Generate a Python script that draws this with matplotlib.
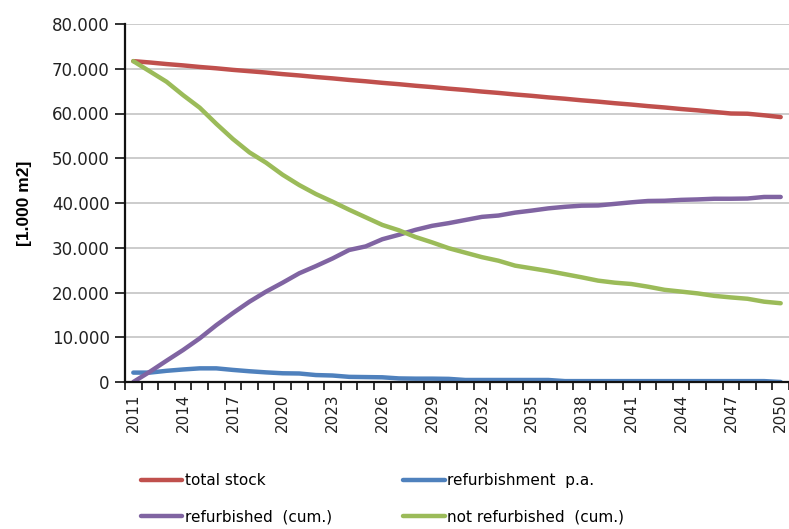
import matplotlib
matplotlib.use("Agg")
import matplotlib.pyplot as plt
from matplotlib.ticker import FuncFormatter

# years and series, values in [1.000 m2]
years = list(range(2011, 2051))

total_stock = [71700, 71400, 71050, 70750, 70400, 70100, 69750, 69450, 69150, 68800,
               68500, 68150, 67850, 67500, 67200, 66850, 66550, 66200, 65900, 65550,
               65250, 64900, 64600, 64250, 63950, 63600, 63300, 62950, 62650, 62300,
               62000, 61650, 61350, 61000, 60700, 60350, 60000, 59950, 59600, 59200]

refurb_pa = [2100, 2100, 2500, 2800, 3050, 3050, 2700, 2400, 2150, 1950,
             1900, 1550, 1450, 1150, 1100, 1050, 800, 750, 750, 700,
             450, 450, 450, 450, 450, 450, 200, 200, 200, 200,
             200, 200, 200, 200, 200, 200, 200, 200, 200, 0]

refurb_cum = [0, 2300, 4750, 7150, 9750, 12700, 15400, 17950, 20200, 22200,
              24300, 25900, 27600, 29500, 30300, 31900, 32900, 34000, 34900, 35500,
              36200, 36900, 37200, 37850, 38300, 38800, 39150, 39400, 39450, 39800,
              40150, 40450, 40500, 40700, 40800, 40950, 40950, 41000, 41350, 41350]

not_refurb_cum = [71700, 69400, 67100, 64100, 61300, 57700, 54300, 51300, 49000, 46300,
                  44000, 42000, 40300, 38500, 36800, 35100, 33900, 32400, 31200, 29900,
                  28900, 27900, 27100, 26000, 25400, 24800, 24100, 23400, 22650, 22200,
                  21900, 21300, 20600, 20200, 19800, 19250, 18900, 18600, 17950, 17600]

fig = plt.figure(figsize=(7.89, 5.29), dpi=100)
ax = fig.add_axes([125 / 789, 1 - 382 / 529, 1 - 125 / 789, (382 - 24) / 529])

x = list(range(len(years)))
lw = 3.2
l1, = ax.plot(x, total_stock, color="#C0504D", lw=lw, solid_capstyle="round", label="total stock")
l2, = ax.plot(x, refurb_pa, color="#4F81BD", lw=lw, solid_capstyle="round", label="refurbishment  p.a.")
l3, = ax.plot(x, refurb_cum, color="#8064A2", lw=lw, solid_capstyle="round", label="refurbished  (cum.)")
l4, = ax.plot(x, not_refurb_cum, color="#9BBB59", lw=lw, solid_capstyle="round", label="not refurbished  (cum.)")

ax.set_ylim(0, 80000)
ax.set_yticks(range(0, 80001, 10000))
ax.yaxis.set_major_formatter(FuncFormatter(lambda v, p: f"{int(v):,}".replace(",", ".")))
ax.set_xlim(-0.5, -0.5 + (789 - 125) / (650 / 39))

ax.set_xticks(x[::3])
ax.set_xticklabels([str(y) for y in years[::3]], rotation=90)
ax.set_xticks([i - 0.5 for i in range(len(years) + 1)], minor=True)
ax.tick_params(axis="x", which="major", length=0, pad=8, labelsize=11, colors="#222222")
ax.tick_params(axis="x", which="minor", length=6, width=1.3, direction="out", color="#222222")
ax.tick_params(axis="y", length=7, width=1.3, direction="out", labelsize=12, colors="#222222", pad=4)

ax.grid(axis="y", color="#C8C8C8", lw=1.3)
ax.set_axisbelow(True)
for s in ["top", "right"]:
    ax.spines[s].set_visible(False)
for s in ["left", "bottom"]:
    ax.spines[s].set_color("#111111")
    ax.spines[s].set_linewidth(1.6)

fig.text(25 / 789, 1 - 203 / 529, "[1.000 m2]", rotation=90, ha="center", va="center",
         fontsize=12.5, fontweight="bold", family="Liberation Sans")

fig.legend(handles=[l1, l3, l2, l4], ncol=2, loc="upper left",
           bbox_to_anchor=(141 / 789, 1 - 473 / 529), frameon=False, fontsize=11,
           handlelength=2.7, handletextpad=0.15, columnspacing=4.7,
           labelspacing=1.4, borderpad=0, borderaxespad=0)

fig.savefig("out.png", dpi=100)
